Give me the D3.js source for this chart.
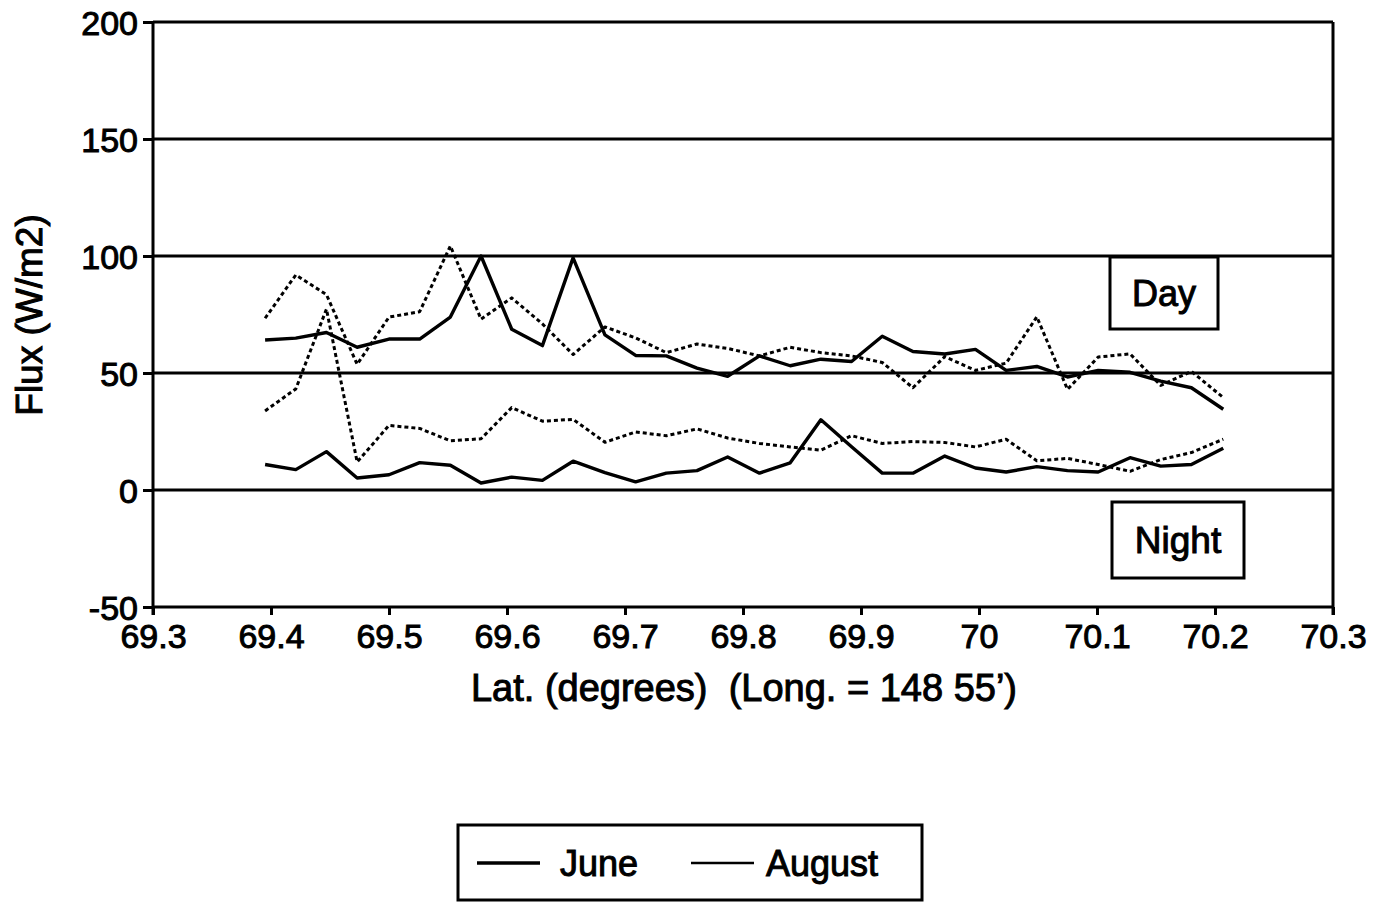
<!DOCTYPE html>
<html>
<head>
<meta charset="utf-8">
<script src="https://cdn.jsdelivr.net/npm/d3@7"></script>
<style>
  body { margin: 0; background: #fff; }
  text { font-family: "Liberation Sans", Arial, Helvetica, sans-serif; fill: #000; }
</style>
</head>
<body>
<svg id="chart" width="1385" height="902"></svg>
<script>
// latitude of each sample (degrees)
var lats = [69.395, 69.421, 69.447, 69.473, 69.500, 69.526, 69.552, 69.578, 69.604, 69.630,
            69.656, 69.683, 69.709, 69.735, 69.761, 69.787, 69.814, 69.840, 69.866, 69.892,
            69.918, 69.944, 69.971, 69.997, 70.023, 70.049, 70.075, 70.101, 70.128, 70.154,
            70.180, 70.207];

// flux values (W/m2)
var juneDay = [64.1, 64.9, 67.3, 61.0, 64.5, 64.5, 73.9, 100, 68.7, 61.7,
               99.2, 66.3, 57.5, 57.3, 52.1, 48.6, 57.3, 53.1, 55.9, 54.9,
               65.7, 59.2, 58.1, 60.1, 51.1, 52.8, 48.3, 51.1, 50.3, 46.5,
               43.7, 34.5];
var augustDay = [73.4, 91.9, 83.5, 53.7, 73.9, 76.2, 104.3, 73.0, 82.1, 71.0,
                 57.9, 69.7, 65.0, 58.7, 62.4, 60.5, 57.3, 61.0, 58.7, 57.3,
                 54.5, 43.7, 57.0, 51.1, 54.2, 74.0, 43.0, 56.8, 58.2, 44.7,
                 50.7, 39.5];
var juneNight = [10.9, 8.7, 16.4, 5.1, 6.5, 11.7, 10.6, 3.0, 5.5, 4.1,
                 12.3, 7.4, 3.5, 7.2, 8.3, 14.1, 7.2, 11.6, 30.0, 18.5,
                 7.2, 7.2, 14.5, 9.4, 7.7, 10.0, 8.3, 7.7, 13.8, 10.2,
                 10.9, 17.8];
var augustNight = [33.8, 43.2, 77.3, 12.0, 27.6, 26.3, 21.0, 21.9, 35.2, 29.4,
                   30.2, 20.4, 24.8, 23.2, 26.1, 22.2, 19.9, 18.4, 17.0, 23.2,
                   19.9, 20.7, 20.3, 18.4, 21.7, 12.5, 13.5, 10.9, 8.0, 13.0,
                   16.0, 21.7];

var xTicks = [69.3, 69.4, 69.5, 69.6, 69.7, 69.8, 69.9, 70, 70.1, 70.2, 70.3];
var yTicks = [-50, 0, 50, 100, 150, 200];
var legendNames = ["June", "August"];

var svg = d3.select("#chart"),
    margin = {top: 22, right: 52, bottom: 295, left: 153},
    width = +svg.attr("width") - margin.left - margin.right,
    height = +svg.attr("height") - margin.top - margin.bottom;

var x = d3.scaleLinear().domain([69.3, 70.3]).range([0, width]),
    y = d3.scaleLinear().domain([-50, 200]).range([height, 0]);

var g = svg.append("g")
    .attr("transform", "translate(" + margin.left + "," + margin.top + ")");

// horizontal grid lines (include top and bottom frame)
g.selectAll("line.grid")
    .data(yTicks)
    .enter().append("line")
    .attr("class", "grid")
    .attr("x1", 0)
    .attr("x2", width)
    .attr("y1", function(d) { return y(d); })
    .attr("y2", function(d) { return y(d); })
    .attr("stroke", "#000")
    .attr("stroke-width", 3);

// right border
g.append("line")
    .attr("x1", width).attr("x2", width)
    .attr("y1", 0).attr("y2", height + 8)
    .attr("stroke", "#000").attr("stroke-width", 3);

var yAxis = d3.axisLeft(y)
    .tickValues(yTicks)
    .tickSize(10)
    .tickPadding(5)
    .tickFormat(function(d) { return String(d); });

var xAxis = d3.axisBottom(x)
    .tickValues(xTicks)
    .tickSize(8)
    .tickPadding(4)
    .tickFormat(function(d) { return String(+d.toFixed(1)); });

var yg = g.append("g").attr("class", "axis axis--y").call(yAxis);
var xg = g.append("g").attr("class", "axis axis--x")
    .attr("transform", "translate(0," + height + ")")
    .call(xAxis);

[yg, xg].forEach(function(ax) {
    ax.selectAll(".tick line").attr("stroke", "#000").attr("stroke-width", 3);
    ax.selectAll(".tick text")
        .style("font-size", "34px")
        .attr("fill", "#000")
        .attr("stroke", "#000")
        .attr("stroke-width", 1);
});
xg.select(".domain").remove();
yg.select(".domain")
    .attr("d", "M0,0V" + (height + 8))
    .attr("stroke", "#000").attr("stroke-width", 3);
xg.selectAll(".tick text").attr("y", 0).attr("dy", 41);
yg.selectAll(".tick text").attr("dy", "0.36em");

// data lines
var line = d3.line()
    .x(function(d, i) { return x(lats[i]); })
    .y(function(d) { return y(d); });

var series = [
    {values: juneDay, dash: null, w: 3.4},
    {values: juneNight, dash: null, w: 3.4},
    {values: augustDay, dash: "4,3", w: 3},
    {values: augustNight, dash: "4,3", w: 3}
];

g.selectAll("path.series")
    .data(series)
    .enter().append("path")
    .attr("class", "series")
    .attr("d", function(d) { return line(d.values); })
    .attr("fill", "none")
    .attr("stroke", "#000")
    .attr("stroke-width", function(d) { return d.w; })
    .attr("stroke-dasharray", function(d) { return d.dash; })
    .attr("stroke-linejoin", "round");

// Day / Night labels
function labelBox(cx, cy, w, h, txt, fs) {
    svg.append("rect")
        .attr("x", cx - w / 2).attr("y", cy - h / 2)
        .attr("width", w).attr("height", h)
        .attr("fill", "#fff").attr("stroke", "#000").attr("stroke-width", 3);
    svg.append("text")
        .attr("x", cx).attr("y", cy)
        .attr("text-anchor", "middle")
        .attr("dy", "0.36em")
        .attr("stroke", "#000").attr("stroke-width", 1)
        .style("font-size", fs + "px")
        .text(txt);
}
labelBox(1164, 293, 108, 72, "Day", 36);
labelBox(1178, 540, 132, 76, "Night", 37);

// axis titles
svg.append("text")
    .attr("x", 744)
    .attr("y", 701)
    .attr("text-anchor", "middle")
    .attr("stroke", "#000").attr("stroke-width", 1)
    .style("font-size", "38px")
    .style("white-space", "pre")
    .text("Lat. (degrees)  (Long. = 148 55\u2019)");

svg.append("text")
    .attr("transform", "translate(42,315) rotate(-90)")
    .attr("text-anchor", "middle")
    .attr("stroke", "#000").attr("stroke-width", 1)
    .style("font-size", "37px")
    .text("Flux (W/m2)");

// legend
var legend = svg.append("g").attr("transform", "translate(458,825)");
legend.append("rect")
    .attr("width", 464).attr("height", 75)
    .attr("fill", "#fff").attr("stroke", "#000").attr("stroke-width", 3);

var items = legend.selectAll("g.item")
    .data(legendNames)
    .enter().append("g")
    .attr("class", "item")
    .attr("transform", function(d, i) { return "translate(" + (19 + i * 214) + ",38)"; });
items.append("line")
    .attr("x1", 0).attr("x2", 63)
    .attr("stroke", "#000")
    .attr("stroke-width", function(d, i) { return i === 0 ? 3.4 : 2.6; });
items.append("text")
    .attr("x", function(d, i) { return i === 0 ? 83 : 75; })
    .attr("dy", "0.36em")
    .attr("stroke", "#000").attr("stroke-width", 1)
    .style("font-size", "36px")
    .text(function(d) { return d; });
</script>
</body>
</html>
